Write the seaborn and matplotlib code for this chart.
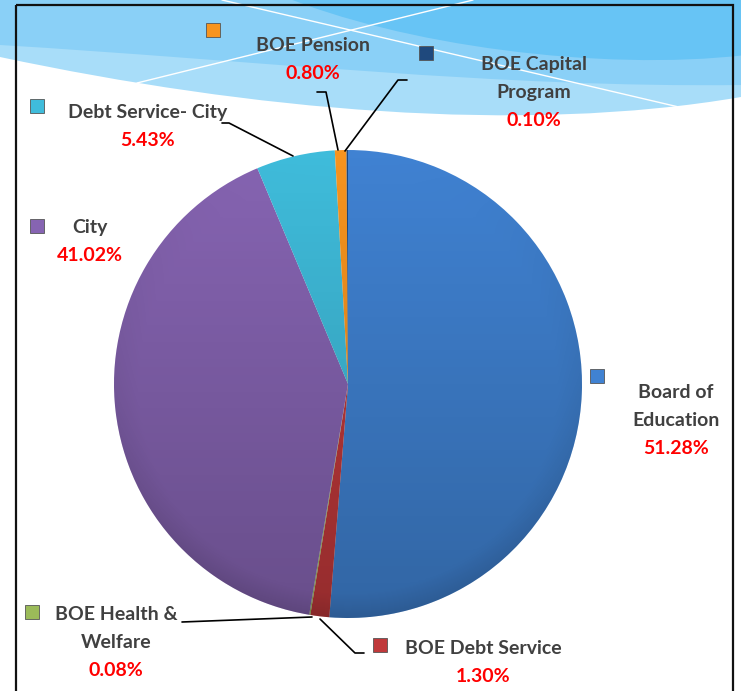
import numpy as np
import matplotlib
matplotlib.use("Agg")
import matplotlib.pyplot as plt
import seaborn as sns
from matplotlib.path import Path
from matplotlib.patches import PathPatch, Rectangle, Circle

# ---- data ----
categories = ["Board of Education", "BOE Debt Service", "BOE Health & Welfare",
              "City", "Debt Service- City", "BOE Pension", "BOE Capital Program"]
shares = [51.28, 1.30, 0.08, 41.02, 5.43, 0.80, 0.10]
colors = ["#4082D2", "#C0393B", "#9BBB59", "#8664B2", "#3FBCDB", "#F7941E", "#1F497D"]
label_lines = [["Board of", "Education"], ["BOE Debt Service"], ["BOE Health &", "Welfare"],
               ["City"], ["Debt Service- City"], ["BOE Pension"], ["BOE Capital", "Program"]]

sns.set_style("white")
plt.rcParams["font.family"] = ["Lato", "DejaVu Sans"]

W, H = 741, 691
fig = plt.figure(figsize=(W / 100, H / 100), dpi=100)
ax = fig.add_axes([0, 0, 1, 1])

# ---- decorative banner ----
def band(p0, c1, c2, p3, z, color):
    verts = [(-5, -5), (-5, p0[1]), p0, c1, c2, p3, (W + 5, p3[1]), (W + 5, -5), (-5, -5)]
    codes = [Path.MOVETO, Path.LINETO, Path.LINETO, Path.CURVE4, Path.CURVE4, Path.CURVE4,
             Path.LINETO, Path.LINETO, Path.CLOSEPOLY]
    ax.add_patch(PathPatch(Path(verts, codes), facecolor=color, edgecolor="none", zorder=z))

band((0, 57), (250, 110), (520, 135), (W, 97), 0.1, "#A8DDF9")
band((0, 45), (250, 60), (500, 88), (W, 85), 0.2, "#8AD0F7")
# darker wave from the top right
verts = [(280, -5), (400, 45), (600, 72), (W + 5, 55), (W + 5, -5), (280, -5)]
codes = [Path.MOVETO, Path.CURVE4, Path.CURVE4, Path.CURVE4, Path.LINETO, Path.CLOSEPOLY]
ax.add_patch(PathPatch(Path(verts, codes), facecolor="#67C4F5", edgecolor="none", zorder=0.3))
ax.plot([137, 473], [83, 0], color="white", lw=1, zorder=0.5)
ax.plot([222, 683], [0, 108], color="white", lw=1, zorder=0.5)

# frame
ax.add_patch(Rectangle((16, 5), 717, 720, fill=False, edgecolor="#111111", lw=1.6, zorder=1))

# ---- pie ----
cx, cy, r = 348, 384, 234
wedges, _ = ax.pie(shares, colors=colors, startangle=270, counterclock=True,
                   center=(cx, cy), radius=r,
                   wedgeprops=dict(edgecolor="none", linewidth=0))
for w in wedges:
    w.set_zorder(2)

# soft shading over the pie (darker toward the bottom, slight bevel at the edge)
grad = np.zeros((200, 200, 4))
yy = np.linspace(0, 1, 200)[:, None]
xx = np.linspace(0, 1, 200)[None, :]
dist = np.sqrt((xx - 0.5) ** 2 + (yy - 0.5) ** 2) / 0.5
grad[..., 3] = np.clip(0.22 * yy + 0.08 * np.clip(dist - 0.9, 0, 1) / 0.1 * yy, 0, 0.32)
clip = Circle((cx, cy), r, transform=ax.transData)
im = ax.imshow(grad, extent=(cx - r, cx + r, cy + r, cy - r), origin="upper",
               zorder=2.5, interpolation="bilinear")
im.set_clip_path(clip)

# ---- labels ----
gray = "#404040"
fs = 14
label_pos = [(676, 392), (483, 648), (116, 615), (90, 227), (148, 112), (313, 45), (534, 64)]
marker_pos = [(597, 376), (380, 645), (32, 612), (37, 226), (37, 106), (213, 30), (426, 53)]
step = 28
for lines, share, (lx, ly), (mx, my), col in zip(label_lines, shares, label_pos, marker_pos, colors):
    for i, t in enumerate(lines):
        ax.text(lx, ly + i * step, t, ha="center", va="center", fontsize=fs,
                fontweight="bold", color=gray, zorder=5)
    ax.text(lx, ly + len(lines) * step, f"{share:.2f}%", ha="center", va="center",
            fontsize=fs, fontweight="bold", color="#FF0000", zorder=5)
    ax.add_patch(Rectangle((mx - 7, my - 7), 14, 14, facecolor=col, edgecolor="#555555",
                           lw=0.6, zorder=5))

# leader lines
leaders = [
    [(222, 123), (229, 123), (293, 156)],
    [(317, 92), (326, 92), (338, 150)],
    [(407, 80), (398, 80), (345, 151)],
    [(182, 622), (312, 617)],
    [(320, 619), (355, 653), (364, 653)],
]
for pts in leaders:
    xs, ys = zip(*pts)
    ax.plot(xs, ys, color="black", lw=1.2, zorder=4)

ax.set_xlim(0, W)
ax.set_ylim(H, 0)
ax.set_aspect("auto")
ax.axis("off")
fig.savefig("out.png", dpi=100)
